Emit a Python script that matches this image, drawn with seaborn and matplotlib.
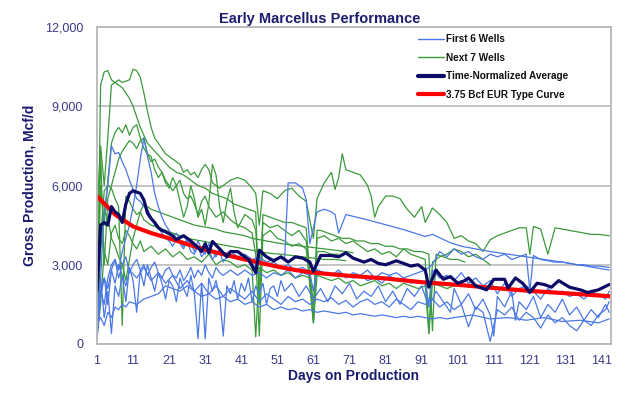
import pandas as pd
import numpy as np
import matplotlib
matplotlib.use('Agg')
import matplotlib.pyplot as plt
import seaborn as sns
from matplotlib.lines import Line2D

# DADOS (dia de producao, Mcf/d)
# poços verdes ("Next 7 Wells")
g1_dias = [1, 2, 3, 4, 5, 6, 7, 8, 9, 10, 11, 12, 13, 14, 15, 17, 19, 21, 23, 25, 27, 29, 31, 33, 35, 37, 39, 41, 43,
           45, 46, 47, 49, 51, 53, 55, 57, 59, 61, 62, 63, 65, 67, 69, 71, 73, 75, 77, 79, 81, 83, 85, 87, 89, 91, 93,
           94, 95, 97, 99, 101, 103]
g1_vals = [300, 9800, 10300, 10350, 10000, 9900, 9800, 9700, 9500, 9300, 9000, 8600, 8200, 7900, 7600, 7300, 7000, 6700,
           6500, 6400, 6200, 6000, 5900, 5700, 5600, 5500, 5300, 5200, 5100, 5000, 1500, 4900, 4800, 4700, 4600, 4600,
           4500, 4400, 900, 4300, 4300, 4200, 4100, 4000, 4000, 3900, 3900, 3800, 3800, 3700, 3700, 3600, 3600, 3500,
           3500, 3400, 500, 3400, 3300, 3200, 3200, 3100]

g2_dias = [1, 2, 3, 4, 5, 6, 7, 8, 9, 10, 11, 12, 13, 14, 15, 16, 17, 18, 19, 20, 21, 22, 23, 24, 25, 26, 27, 28, 29, 30,
           31, 32, 33, 35, 36, 38, 40, 42, 44, 45, 46, 47, 49, 51, 53, 55, 57, 59, 61, 62, 64, 66, 67, 68, 69, 70, 72,
           74, 76, 77, 78, 79, 81, 83, 85, 87, 89, 91, 92, 94, 96, 98, 100, 102, 104, 106, 108, 110, 112, 114, 116,
           118, 120, 121, 122, 124, 126, 128, 130, 132, 134, 136, 138, 140, 143]
g2_vals = [5000, 7500, 6000, 7800, 9800, 9900, 10000, 9900, 9950, 10000, 10400, 10350, 10100, 9500, 8800, 8200, 7800,
           7600, 7400, 7200, 7100, 7000, 6900, 6800, 6500, 6600, 6400, 6500, 6300, 6600, 6800, 6600, 6100, 5900, 6000,
           6200, 6300, 6200, 5900, 5700, 4500, 5800, 5700, 5500, 5800, 5900, 5600, 5400, 4000, 5500, 6100, 6500, 5850,
           6300, 7200, 6600, 6500, 6400, 6000, 5600, 4800, 5200, 5600, 5600, 5500, 5100, 4800, 5200, 4600, 5150, 4900,
           4600, 4000, 4100, 3900, 3800, 3500, 3950, 4100, 4200, 4300, 4400, 4400, 3400, 4450, 4350, 3400, 4400, 4350,
           4300, 4250, 4200, 4150, 4150, 4100]

g3_dias = [1, 2, 3, 4, 5, 6, 7, 8, 9, 10, 11, 12, 13, 14, 15, 16, 17, 18, 19, 20, 21, 22, 23, 24, 25, 26, 27, 28, 29, 30,
           31, 32, 34, 36, 38, 40, 42, 44, 45, 46, 47, 49, 51, 53, 55, 57, 59, 61, 62, 64, 66, 68]
g3_vals = [200, 6000, 4500, 6200, 7600, 8000, 8200, 8000, 8300, 7900, 8200, 8300, 7800, 7400, 7200, 6900, 7000, 6700,
           6500, 6200, 6000, 5800, 6000, 6200, 5700, 5500, 5600, 5300, 4900, 5400, 5600, 5200, 4800, 5000, 4700, 4500,
           4400, 4200, 3400, 300, 4100, 4300, 4000, 3900, 3700, 3800, 3600, 800, 3500, 3500, 3400, 3400]

g4_dias = [1, 2, 3, 4, 5, 6, 7, 8, 9, 10, 11, 12, 13, 14, 15, 16, 17, 18, 19, 20, 21, 22, 23, 24, 25, 26, 27, 28, 29, 30,
           31, 32, 33, 34, 35, 36, 37, 38, 39, 40, 42, 44, 45, 46, 47, 49, 51, 53, 55, 57, 59, 61, 62, 64, 66, 68, 70,
           72, 74, 76, 78, 80, 82, 84, 86, 88, 90, 92, 93, 94, 96, 98, 100, 102, 104, 106, 108, 110]
g4_vals = [1000, 7200, 3000, 5500, 6000, 6500, 7000, 7300, 7500, 7700, 7600, 7400, 7700, 7800, 7200, 7100, 6600, 6300,
           6500, 6100, 5900, 6300, 6000, 5400, 4800, 5200, 6000, 5500, 4800, 5100, 4500, 5300, 6800, 6400, 5200, 4600,
           5400, 5900, 5000, 4400, 4900, 4700, 4300, 2000, 4600, 4400, 4500, 4300, 4100, 4300, 3900, 1500, 4000, 4100,
           3900, 4000, 3800, 3900, 3700, 3500, 3600, 3400, 3500, 3300, 3600, 3400, 3300, 3200, 400, 3100, 3300, 3400,
           3600, 3500, 3300, 3400, 3200, 3000]

g5_dias = [1, 2, 3, 4, 5, 6, 7, 8, 9, 10, 11, 12, 13, 14, 15, 16, 18, 20, 22, 24, 26, 28, 30, 32, 34, 36, 38, 40, 42, 44,
           46, 48, 50, 52, 55, 58, 61, 64, 67, 70]
g5_vals = [300, 4000, 5800, 6000, 5900, 5500, 5200, 700, 5600, 5400, 5100, 4900, 5000, 4700, 4600, 4500, 4400, 4300,
           4200, 4100, 4000, 3950, 3900, 3850, 3800, 3750, 3700, 3650, 3600, 3550, 3500, 3450, 3420, 3400, 3350, 3300,
           3250, 3200, 3200, 3150]

g6_dias = [1, 2, 3, 4, 5, 6, 7, 8, 9, 10, 11, 12, 13, 14, 15, 16, 18, 20, 22, 24, 26, 28, 30, 32, 34, 36, 38, 40, 42, 44,
           46, 48, 50, 52, 55, 58, 61, 64, 67, 70, 72]
g6_vals = [500, 3500, 5000, 4800, 4000, 3700, 3300, 3000, 2400, 3200, 4000, 4500, 5000, 5300, 5200, 5100, 5000, 4900,
           4800, 4700, 4600, 4500, 4450, 4400, 4350, 4250, 4200, 4150, 4100, 4000, 3950, 3900, 3850, 3800, 3750, 3700,
           3650, 3600, 3550, 3500, 3450]

g7_dias = [1, 2, 3, 4, 5, 6, 7, 8, 9, 10, 11, 12, 13, 14, 16, 18, 20, 22, 24, 26, 28, 30, 32, 34, 36, 38, 40, 42, 44, 45,
           46, 48, 50, 52, 54, 56, 58, 60, 61, 62, 64, 66, 68, 70, 72, 74, 76, 78, 80, 82, 84, 86, 88, 90, 92, 93, 94,
           96, 98, 100]
g7_vals = [200, 1500, 3500, 3000, 4200, 4500, 4000, 3800, 4300, 4100, 3800, 3600, 3900, 3500, 3700, 3400, 3600, 3300,
           3500, 3200, 3300, 3100, 3400, 3000, 3200, 3100, 2900, 3000, 2800, 270, 2900, 2700, 2800, 2600, 2700, 2500,
           2600, 2500, 800, 2600, 2500, 2400, 2500, 2300, 2400, 2200, 2300, 2400, 2200, 2300, 2100, 2300, 2200, 2100,
           2200, 400, 2300, 2200, 2100, 2200]

# poços azuis ("First 6 Wells")
b1_dias = [1, 2, 3, 4, 5, 6, 7, 8, 9, 10, 11, 12, 13, 14, 15, 16, 17, 18, 19, 20, 21, 22, 23, 24, 25, 26, 27, 28, 29, 30,
           31, 32, 33, 34, 35, 36, 37, 38, 40, 42, 44, 45, 46, 48, 50, 52, 54, 56, 58, 60, 61, 62, 64, 66, 68, 70, 72,
           74, 76, 78, 80, 82, 84, 86, 88, 90, 92, 93, 94, 96, 98, 100, 102, 104, 106, 108, 110, 112, 114, 116, 118,
           120, 122, 124, 126, 128, 130, 132, 134, 136, 138, 140, 142, 143]
b1_vals = [1000, 2500, 5000, 6000, 7500, 7200, 7250, 6900, 6600, 6200, 5850, 5500, 5400, 5200, 5100, 4800, 4500, 4400,
           4200, 4000, 3900, 3700, 4000, 3800, 3600, 3900, 3500, 3400, 3700, 3300, 3500, 3600, 3200, 3400, 3500, 3100,
           3300, 3400, 3200, 3300, 3100, 2800, 3200, 3000, 3100, 2900, 3000, 2800, 2900, 2700, 2000, 2800, 2700, 2600,
           2700, 2600, 2500, 2600, 2400, 2500, 2300, 2600, 2400, 2500, 2300, 2400, 2300, 1500, 2800, 2500, 2600, 2400,
           2700, 2300, 2500, 2200, 2400, 1900, 2300, 1800, 2100, 2200, 2000, 1700, 2100, 1900, 2000, 1800, 1900, 1700,
           1950, 1900, 1700, 2000]

b2_dias = [1, 2, 3, 4, 5, 6, 7, 8, 9, 10, 11, 12, 13, 14, 15, 16, 17, 18, 19, 20, 21, 22, 23, 24, 25, 26, 27, 28, 29, 30,
           31, 32, 33, 34, 35, 36, 38, 40, 42, 44, 46, 48, 50, 52, 53, 54, 56, 58, 59, 60, 62, 64, 66, 67, 68, 70, 76,
           86, 92, 94, 99, 102, 110, 120, 130, 143]
b2_vals = [1500, 2000, 1500, 2500, 3000, 3200, 2800, 3500, 4000, 4500, 5200, 6000, 7000, 7800, 7100, 6500, 5700, 5200,
           4800, 4500, 4300, 4000, 4200, 3900, 3700, 4000, 3800, 3500, 3900, 3600, 3400, 3800, 3500, 3300, 3600, 3400,
           3500, 3300, 3400, 3200, 3300, 3100, 3200, 3300, 3200, 6100, 6100, 5900, 5450, 3800, 5000, 5100, 5000, 4900,
           4200, 4900, 4700, 4330, 4070, 4150, 3830, 3700, 3500, 3300, 3100, 2800]

b3_dias = [1, 2, 3, 4, 5, 6, 7, 8, 9, 10, 11, 12, 13, 14, 15, 16, 17, 18, 19, 20, 21, 22, 23, 24, 25, 26, 27, 28, 29, 30,
           31, 32, 33, 34, 35, 36, 38, 40, 42, 44, 46, 48, 50, 52, 54, 56, 58, 60, 62, 64, 66, 68, 70, 72, 74, 76, 78,
           80, 82, 84, 86, 88, 90, 92, 94, 96, 98, 100, 102, 104, 106, 108, 110, 112, 114, 116, 118, 120, 121, 122, 124,
           126, 128, 130, 132, 134, 136, 138, 140, 143]
b3_vals = [600, 2000, 2500, 1500, 2800, 3200, 2500, 3000, 3300, 2700, 3000, 3200, 2800, 3000, 2600, 2900, 3100, 2700,
           2500, 2800, 2900, 2600, 2500, 2800, 2400, 2600, 2900, 2500, 2800, 2600, 3000, 2700, 2500, 2900, 2700, 2600,
           2800, 2600, 2800, 2600, 2700, 2500, 2700, 2600, 2800, 2500, 2700, 2600, 2800, 2700, 2600, 2800, 2500, 2700,
           2600, 2800, 2500, 2700, 2600, 2700, 2500, 2600, 2700, 2800, 3000, 3500, 3300, 3600, 3400, 3500, 3300, 3200,
           3400, 3300, 3400, 3200, 3300, 3400, 2000, 3350, 3200, 3150, 3100, 3100, 3050, 3000, 3000, 2950, 2950, 2900]

b4_dias = [1, 2, 3, 4, 5, 6, 7, 8, 9, 10, 11, 12, 13, 14, 15, 16, 17, 18, 19, 20, 21, 22, 23, 24, 25, 26, 27, 28, 29, 30,
           31, 32, 33, 34, 35, 36, 37, 38, 39, 40, 41, 42, 43, 44, 45, 46, 47, 48, 49, 50, 51, 52, 53, 55, 57, 59, 61,
           63, 65, 67, 69, 71, 73, 75, 77, 79, 81, 83, 85, 87, 89, 91, 93, 95, 97, 99, 100, 102, 104, 106, 108, 110,
           111, 112, 114, 116, 117, 118, 120, 122, 124, 126, 128, 130, 132, 134, 136, 138, 140, 142, 143]
b4_vals = [300, 2500, 1000, 2000, 400, 2200, 1800, 2600, 1600, 2900, 2400, 1200, 2800, 2200, 3000, 2500, 2000, 2700, 2300,
           1700, 2400, 2200, 1600, 2500, 2100, 1800, 2600, 1900, 200, 2300, 200, 2500, 2000, 2400, 1800, 300, 2200, 1900,
           2400, 1700, 2300, 2000, 2500, 1600, 2200, 1900, 2300, 1500, 2100, 2200, 1800, 2400, 2000, 2300, 1800, 2200,
           1700, 2100, 1600, 2200, 1900, 2300, 1700, 2000, 1800, 2200, 1600, 2000, 1500, 2100, 1800, 2200, 1400, 2000,
           1600, 1200, 2100, 1500, 1900, 1300, 1700, 1100, 300, 1800, 1400, 2000, 900, 1600, 1300, 1800, 1000, 1500,
           1200, 1700, 1100, 1400, 900, 1300, 1000, 1500, 1200]

b5_dias = [1, 2, 3, 4, 5, 6, 7, 8, 9, 10, 12, 14, 16, 18, 20, 22, 24, 26, 28, 30, 32, 34, 36, 38, 40, 42, 44, 46, 48, 50,
           52, 54, 56, 58, 60, 62, 64, 66, 68, 70, 72, 74, 76, 78, 80, 82, 84, 86, 88, 90, 92, 94, 96, 98, 100, 105,
           110, 115, 120, 125, 130, 135, 140, 143]
b5_vals = [800, 1000, 700, 1200, 1000, 1400, 1300, 1500, 1400, 1600, 1500, 1700, 1800, 1900, 2200, 2100, 2000, 2200,
           2000, 1800, 1900, 1700, 1800, 1600, 1700, 1500, 1600, 1400, 1500, 1300, 1400, 1300, 1350, 1250, 1300, 1200,
           1250, 1200, 1150, 1200, 1100, 1150, 1100, 1050, 1100, 1050, 1000, 1050, 1000, 1050, 1000, 950, 1000, 950,
           1000, 1100, 950, 1000, 900, 1000, 850, 900, 800, 950]

b6_dias = [1, 2, 3, 4, 5, 6, 7, 8, 9, 10, 12, 14, 16, 18, 20, 22, 24, 26, 28, 30, 32, 34, 36, 38, 40, 42, 44, 46, 48, 50,
           52, 54, 56, 58, 60, 62, 64, 66, 68, 70, 72, 74, 76, 78, 80, 82, 84, 86, 88, 90, 92, 94, 96, 98, 100, 102,
           104, 106, 108, 110, 112, 114, 116, 118, 120, 122, 124, 126, 128, 130, 132, 134, 136, 138, 140, 142, 143]
b6_vals = [200, 1800, 2500, 2100, 2800, 2300, 3000, 2600, 2200, 2800, 2500, 2900, 2400, 2700, 2300, 2600, 2100, 2400,
           2000, 2300, 1900, 2200, 1800, 2100, 1900, 1700, 2000, 1600, 1900, 1700, 1500, 1800, 1600, 1700, 1500, 1700,
           1600, 1750, 1500, 1650, 1400, 1600, 1700, 1500, 1600, 1400, 1700, 1500, 1300, 1600, 1500, 1700, 1400, 1600,
           1300, 1500, 650, 1400, 1200, 100, 1300, 1100, 1400, 900, 1200, 1000, 600, 1100, 800, 1000, 700, 500, 900,
           700, 1100, 1300, 1600]

# MEDIA NORMALIZADA NO TEMPO
media_dias = [1, 2, 3, 4, 5, 6, 7, 8, 9, 10, 11, 12, 13, 14, 15, 16, 17, 18, 19, 20, 22, 23, 25, 27, 29, 30, 31, 32, 33,
              35, 37, 38, 40, 42, 43, 45, 46, 48, 50, 52, 54, 56, 58, 60, 61, 63, 66, 68, 70, 72, 75, 77, 79, 81, 84,
              86, 88, 90, 92, 93, 95, 97, 99, 101, 103, 104, 106, 109, 111, 114, 115, 117, 119, 121, 123, 125, 127,
              129, 132, 135, 137, 140, 143]
media_vals = [2000, 4500, 4600, 4500, 5200, 5000, 4900, 4600, 5300, 5700, 5800, 5750, 5700, 5450, 4950, 4750, 4600,
              4400, 4300, 4250, 4100, 3950, 4100, 3900, 3650, 3500, 3800, 3450, 3880, 3600, 3300, 3500, 3500, 3300,
              3200, 2700, 3550, 3300, 3150, 3300, 3100, 3300, 3250, 3100, 2750, 3350, 3350, 3300, 3450, 3250, 3100,
              3200, 3050, 3000, 3150, 3050, 2950, 3000, 2800, 2150, 2800, 2450, 2550, 2300, 2400, 2500, 2200, 2050,
              2450, 2450, 2120, 2500, 2300, 1950, 2300, 2250, 2150, 2400, 2150, 2050, 1950, 2050, 2250]

# CURVA TIPO 3.75 Bcf EUR
tipo_dias = [1, 6, 11, 16, 21, 26, 31, 36, 41, 46, 51, 56, 61, 71, 81, 91, 101, 111, 121, 131, 141, 144]
tipo_vals = [5600, 4900, 4450, 4200, 4000, 3780, 3570, 3400, 3230, 3080, 2930, 2800, 2700, 2580, 2480, 2340, 2240,
             2120, 2010, 1920, 1830, 1800]

# MONTANDO DATAFRAME LONGO DOS POÇOS
pocos = [('Next 7 Wells', g1_dias, g1_vals), ('Next 7 Wells', g2_dias, g2_vals), ('Next 7 Wells', g3_dias, g3_vals),
         ('Next 7 Wells', g4_dias, g4_vals), ('Next 7 Wells', g5_dias, g5_vals), ('Next 7 Wells', g6_dias, g6_vals),
         ('Next 7 Wells', g7_dias, g7_vals),
         ('First 6 Wells', b1_dias, b1_vals), ('First 6 Wells', b2_dias, b2_vals), ('First 6 Wells', b3_dias, b3_vals),
         ('First 6 Wells', b4_dias, b4_vals), ('First 6 Wells', b5_dias, b5_vals), ('First 6 Wells', b6_dias, b6_vals)]

frames = []
for i, (grupo, d, v) in enumerate(pocos):
    frames.append(pd.DataFrame({'poco': i, 'grupo': grupo, 'dia': d, 'vazao': v}))
df_pocos = pd.concat(frames, ignore_index=True)

df_media = pd.DataFrame({'dia': media_dias, 'vazao': media_vals})
df_tipo = pd.DataFrame({'dia': tipo_dias, 'vazao': tipo_vals})

AZUL = '#4a78e6'
VERDE = '#3b9a3b'
MARINHO = '#0c0c66'
VERMELHO = '#ff0000'
TEXTO = '#1c1c6e'

sns.set_style('white')
plt.rcParams['font.family'] = ['Liberation Sans', 'DejaVu Sans']

fig = plt.figure(figsize=(6.4, 3.97), dpi=100)
ax = fig.add_axes([97 / 640, 53 / 397, 514 / 640, 317 / 397])

sns.lineplot(data=df_pocos, x='dia', y='vazao', hue='grupo', units='poco', estimator=None,
             palette={'Next 7 Wells': VERDE, 'First 6 Wells': AZUL},
             hue_order=['Next 7 Wells', 'First 6 Wells'], lw=0.9, legend=False, ax=ax, sort=False)
sns.lineplot(data=df_tipo, x='dia', y='vazao', color=VERMELHO, lw=3.0, ax=ax)
sns.lineplot(data=df_media, x='dia', y='vazao', color=MARINHO, lw=2.3, ax=ax)

ax.set_xlim(1, 143.5)
ax.set_ylim(0, 12000)
ax.set_yticks([0, 3000, 6000, 9000, 12000])
ax.yaxis.set_major_formatter(plt.FuncFormatter(lambda x, pos: f'{x:,.0f}'))
ax.set_xticks(np.arange(1, 144, 5))
ax.set_xticklabels([str(d) if (d - 1) % 10 == 0 else '' for d in range(1, 144, 5)])
ax.tick_params(axis='x', length=4, width=1, color='#b0b0b0', direction='out', labelsize=9,
               labelcolor='#3a3a8c', pad=4)
ax.tick_params(axis='y', length=0, labelsize=9, labelcolor='#3a3a8c', pad=10)
ax.grid(axis='y', color='#c0c0c0', lw=1.3)
ax.set_axisbelow(True)
for s in ax.spines.values():
    s.set_color('#b8b8b8')
    s.set_linewidth(1.3)

ax.set_xlabel('Days on Production', fontsize=10, fontweight='bold', color=TEXTO, labelpad=0)
ax.xaxis.set_label_coords(0.5, -0.08)
ax.set_ylabel('Gross Production, Mcf/d', fontsize=10, fontweight='bold', color=TEXTO)
ax.yaxis.set_label_coords(-0.118, 0.5)
fig.text(0.5, 0.952, 'Early Marcellus Performance', ha='center', va='center', fontsize=10.5,
         fontweight='bold', color=TEXTO)

handles = [Line2D([], [], color=AZUL, lw=1),
           Line2D([], [], color=VERDE, lw=1),
           Line2D([], [], color=MARINHO, lw=3),
           Line2D([], [], color=VERMELHO, lw=3)]
labels = ['First 6 Wells', 'Next 7 Wells', 'Time-Normalized Average', '3.75 Bcf EUR Type Curve']
leg = ax.legend(handles, labels, loc='upper left', bbox_to_anchor=(314 / 514, 1.0), frameon=True,
                prop={'weight': 'bold', 'size': 7.2}, handlelength=2.6, handletextpad=0.2,
                labelspacing=0.86, borderaxespad=0.25, borderpad=0.45)
leg.get_frame().set_edgecolor('none')
leg.get_frame().set_facecolor('white')
leg.get_frame().set_alpha(1)
for t in leg.get_texts():
    t.set_color('#111111')

fig.savefig('out.png', dpi=100)
